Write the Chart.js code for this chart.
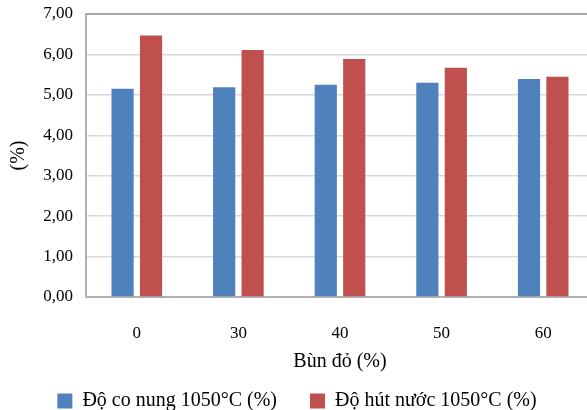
<!DOCTYPE html>
<html>
<head>
<meta charset="utf-8">
<script src="https://cdn.jsdelivr.net/npm/chart.js@4.4.0/dist/chart.umd.min.js"></script>
<style>
    html, body { margin: 0; padding: 0; background: #fff; overflow: hidden; }
    #khung { width: 594px; height: 410px; }
</style>
</head>
<body>
<div id="khung"><canvas id="bieudo"></canvas></div>
<script>
const nhan = ['0', '30', '40', '50', '60']
const doCoNung = [5.15, 5.19, 5.25, 5.30, 5.39]
const doHutNuoc = [6.47, 6.11, 5.89, 5.67, 5.45]
const tenSeries = ['Độ co nung 1050°C (%)', 'Độ hút nước 1050°C (%)']

const phongChu = 'Liberation Serif'

// legend padding lon de cach xa giua 2 muc, roi keo hop legend len cho vua
const keoLegend = {
    id: 'keoLegend',
    afterLayout(chart) {
        chart.legend.top -= 17
    }
}

new Chart(document.getElementById('bieudo'), {
    type: 'bar',
    data: {
        labels: nhan,
        datasets: [{
            label: tenSeries[0],
            data: doCoNung,
            backgroundColor: '#4F81BD',
            categoryPercentage: 0.56,
            barPercentage: 0.78
        }, {
            label: tenSeries[1],
            data: doHutNuoc,
            backgroundColor: '#C0504D',
            categoryPercentage: 0.56,
            barPercentage: 0.78
        }]
    },
    plugins: [keoLegend],
    options: {
        responsive: true,
        maintainAspectRatio: false,
        animation: false,
        layout: { padding: { top: 14, left: 0, right: 0, bottom: 0 } },
        plugins: {
            tooltip: { enabled: false },
            legend: {
                position: 'bottom',
                align: 'center',
                maxHeight: 35,
                labels: {
                    boxWidth: 15,
                    boxHeight: 15,
                    padding: 33,
                    color: '#000',
                    font: { family: phongChu, size: 20 }
                }
            }
        },
        scales: {
            x: {
                afterFit: (scale) => { scale.height = 78 },
                grid: { display: false },
                border: { color: '#b0b0b0', width: 2 },
                ticks: { color: '#000', padding: 18, font: { family: phongChu, size: 17 } },
                title: {
                    display: true,
                    text: 'Bùn đỏ (%)',
                    color: '#000',
                    padding: { top: 0, bottom: 1 },
                    font: { family: phongChu, size: 20 }
                }
            },
            y: {
                min: 0,
                max: 7,
                afterFit: (scale) => {
                    scale.width = 86
                    scale.paddingTop = 0
                },
                grid: {
                    color: (ctx) => ctx.tick && ctx.tick.value === 7 ? '#a8a8a8' : '#d9d9d9',
                    lineWidth: (ctx) => ctx.tick && ctx.tick.value === 7 ? 2 : 1.5,
                    drawTicks: false
                },
                border: { color: '#b0b0b0', width: 2 },
                ticks: {
                    stepSize: 1,
                    padding: 13,
                    color: '#000',
                    font: { family: phongChu, size: 17 },
                    callback: (v) => v.toFixed(2).replace('.', ',')
                },
                title: {
                    display: true,
                    text: '(%)',
                    color: '#000',
                    padding: { top: 7, bottom: 0 },
                    font: { family: phongChu, size: 20 }
                }
            }
        }
    }
})
</script>
</body>
</html>
